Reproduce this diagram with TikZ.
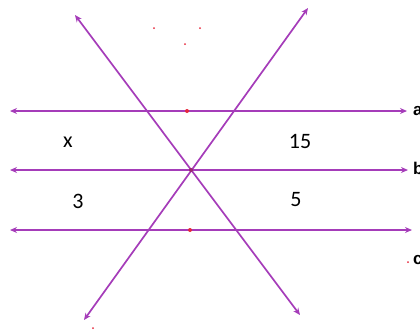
\documentclass[tikz,border=0pt]{standalone}
\usepackage{fontspec}
\setmainfont{Carlito}
\newfontfamily\labfont{Liberation Sans}
\usetikzlibrary{arrows.meta}
\definecolor{lineP}{RGB}{165,60,185}
\definecolor{dotR}{RGB}{230,40,60}
\tikzset{
  ln/.style={lineP, line width=1.7pt, {Stealth[length=7pt,width=6pt]}-{Stealth[length=7pt,width=6pt]}},
  num/.style={font=\fontsize{22}{26}\selectfont, text=black, inner sep=0pt},
  lab/.style={font=\labfont\bfseries\fontsize{17}{20}\selectfont, anchor=west, inner sep=0pt},
  rdot/.style={circle, fill=dotR, inner sep=0pt, minimum size=2pt},
  bdot/.style={circle, fill=dotR, inner sep=0pt, minimum size=4pt}
}
\begin{document}
\begin{tikzpicture}[x=1pt,y=-1pt]
\useasboundingbox (0,0) rectangle (420,333);
% endpoints
\coordinate (aL) at (10,111); \coordinate (aR) at (407,111);
\coordinate (bL) at (10,170); \coordinate (bR) at (408,170);
\coordinate (cL) at (10,230); \coordinate (cR) at (412,230);
\coordinate (d1T) at (75,15);  \coordinate (d1B) at (300,315);
\coordinate (d2T) at (308,8); \coordinate (d2B) at (84,320);
\draw[ln] (aL) -- (aR);
\draw[ln] (bL) -- (bR);
\draw[ln] (cL) -- (cR);
\draw[ln] (d1T) -- (d1B);
\draw[ln] (d2T) -- (d2B);
% dots
\node[bdot] (p1) at (187,111) {};
\node[bdot] (p2) at (190,230) {};
\node[circle, fill=lineP!60!dotR!80!black, inner sep=0pt, minimum size=4pt] (p0) at (191,170) {};
\node[rdot] (n1) at (154,28) {};
\node[rdot] (n2) at (200,28) {};
\node[rdot] (n3) at (185,44) {};
\node[rdot] (n4) at (93,328) {};
\node[rdot] (n5) at (408,262) {};
% labels
\node[num] (x) at (68,142) {x};
\node[num] (n15) at (300,141) {15};
\node[num] (n3l) at (78,201) {3};
\node[num] (n5l) at (296,200) {5};
\node[lab] (la) at (413,111) {a};
\node[lab] (lb) at (413,168) {b};
\node[lab] (lc) at (413,260) {c};
\end{tikzpicture}
\end{document}
